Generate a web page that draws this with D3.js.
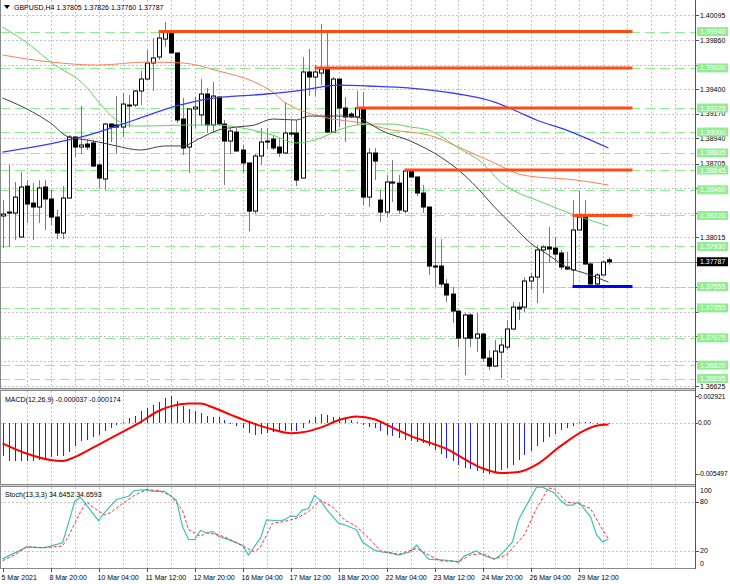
<!DOCTYPE html>
<html>
<head>
<meta charset="utf-8">
<style>
    body { margin: 0; background: #fff; }
    svg { display: block; font-family: 'Liberation Sans', Arial, sans-serif; }
    .grid line { stroke: #c4c4c4; stroke-dasharray: 2,2; shape-rendering: crispEdges; }
    .lbl { font-size: 7px; fill: #000; }
</style>
</head>
<body>
<svg width="730" height="584"></svg>
<script src="https://d3js.org/d3.v7.min.js"></script>
<script>
// ---- data ----
const header = "GBPUSD,H4  1.37805 1.37826 1.37760 1.37787";
const macdTitle = "MACD(12,26,9) -0.000037 -0.000174";
const stochTitle = "Stoch(13,3,3) 34.6452 34.6593";

const opens = [1.38215,1.38252,1.38243,1.38018,1.38495,1.38336,1.38299,1.38486,1.38374,1.38205,
    1.38056,1.38383,1.38954,1.38860,1.38888,1.38898,1.38692,1.38561,1.39075,1.39066,
    1.39047,1.39244,1.39253,1.39384,1.39496,1.39646,1.39702,1.39870,1.39936,1.39740,
    1.39122,1.38860,1.39216,1.39160,1.39356,1.39066,1.39328,1.39075,1.38916,1.39000,
    1.38832,1.38711,1.38261,1.38776,1.38916,1.38935,1.38860,1.38804,1.38991,1.38991,
    1.38570,1.39562,1.39515,1.39552,1.39590,1.39000,1.39496,1.39225,1.39169,1.39141,
    1.39225,1.38392,1.38804,1.38364,1.38252,1.38523,1.38523,1.38261,1.38636,1.38580,
    1.38430,1.38299,1.37747,1.37747,1.37579,1.37485,1.37326,1.37073,1.37289,1.37073,
    1.37111,1.36886,1.36811,1.36942,1.36989,1.37158,1.37363,1.37363,1.37607,1.37644,
    1.37897,1.37925,1.37915,1.37869,1.37738,1.37710,1.38084,1.38205,1.37766,1.37579,
    1.37663,1.37805];
const highs = [1.38364,1.38692,1.38533,1.38626,1.38551,1.38523,1.38551,1.38551,1.38458,1.38271,
    1.38495,1.38972,1.38954,1.39244,1.38935,1.38926,1.38711,1.39085,1.39085,1.39337,
    1.39365,1.39347,1.39393,1.39571,1.39768,1.39880,1.39945,1.40030,1.39945,1.39740,
    1.39319,1.39216,1.39328,1.39496,1.39412,1.39468,1.39337,1.39113,1.39038,1.39038,
    1.38879,1.38711,1.38795,1.39038,1.39038,1.38972,1.38944,1.39281,1.39113,1.39113,
    1.39702,1.39777,1.39627,1.40011,1.39936,1.39515,1.39496,1.39328,1.39188,1.39384,
    1.39375,1.38851,1.38851,1.38458,1.38598,1.38739,1.38598,1.38645,1.38645,1.38580,
    1.38505,1.38299,1.38009,1.37999,1.37625,1.37550,1.37326,1.37307,1.37307,1.37307,
    1.37120,1.36961,1.37055,1.37073,1.37242,1.37410,1.37410,1.37644,1.37681,1.37943,
    1.37943,1.38112,1.38018,1.37897,1.37878,1.38364,1.38449,1.38364,1.37784,1.37681,
    1.37803,1.37826];
const lows = [1.37915,1.37925,1.37990,1.38018,1.38149,1.37990,1.38149,1.38084,1.38130,1.37999,
    1.37999,1.38383,1.38767,1.38795,1.38832,1.38673,1.38477,1.38458,1.38907,1.38795,
    1.38954,1.39047,1.39234,1.39253,1.39487,1.39384,1.39674,1.39796,1.39740,1.39085,
    1.38785,1.38617,1.39038,1.39066,1.38991,1.38991,1.39066,1.38505,1.38795,1.38813,
    1.38617,1.38074,1.38233,1.38692,1.38841,1.38832,1.38767,1.38795,1.38963,1.38495,
    1.38570,1.39337,1.39337,1.39440,1.38991,1.38991,1.39047,1.38907,1.39131,1.39066,
    1.38318,1.38299,1.38551,1.38159,1.38205,1.38346,1.38233,1.38243,1.38570,1.38402,
    1.38243,1.37663,1.37550,1.37550,1.37410,1.37214,1.36989,1.36727,1.36989,1.36942,
    1.36849,1.36774,1.36802,1.36699,1.36961,1.37148,1.37242,1.37317,1.37522,1.37401,
    1.37494,1.37775,1.37775,1.37710,1.37710,1.37550,1.38084,1.37756,1.37550,1.37550,
    1.37663,1.37760];
const closes = [1.38233,1.38243,1.38392,1.38486,1.38327,1.38299,1.38477,1.38374,1.38205,1.38056,
    1.38383,1.38954,1.38860,1.38879,1.38860,1.38682,1.38570,1.39075,1.39047,1.39047,
    1.39262,1.39253,1.39384,1.39496,1.39646,1.39693,1.39880,1.39945,1.39740,1.39113,
    1.38851,1.39216,1.39234,1.39356,1.39066,1.39337,1.39075,1.38916,1.39010,1.38823,
    1.38711,1.38261,1.38776,1.38907,1.38907,1.38851,1.38804,1.38991,1.38982,1.38551,
    1.39562,1.39515,1.39562,1.39590,1.39000,1.39496,1.39225,1.39141,1.39141,1.39225,
    1.38392,1.38804,1.38729,1.38252,1.38533,1.38533,1.38271,1.38636,1.38580,1.38430,
    1.38299,1.37747,1.37738,1.37579,1.37476,1.37326,1.37073,1.37289,1.37073,1.37111,
    1.36886,1.36811,1.36952,1.37008,1.37158,1.37363,1.37345,1.37607,1.37644,1.37897,
    1.37925,1.37906,1.37859,1.37738,1.37719,1.38084,1.38205,1.37766,1.37579,1.37663,
    1.37784,1.37787];

// moving averages, [bar, price]
const maBlue = [[0,1.38813],[11,1.38926],[16,1.39000],[22,1.39113],[29,1.39244],[34,1.39309],
    [44,1.39356],[50,1.39393],[56,1.39440],[61,1.39431],[68,1.39412],[76,1.39356],[82,1.39281],
    [86,1.39188],[89,1.39113],[94,1.39019],[101,1.38851]];
const maOrange = [[0,1.39721],[8,1.39655],[16,1.39627],[24,1.39655],[30,1.39646],[36,1.39571],
    [42,1.39468],[45,1.39375],[47,1.39281],[51,1.39178],[55,1.39122],[59,1.39094],[62,1.39057],
    [65,1.39019],[71,1.38972],[76,1.38860],[79,1.38785],[82,1.38711],[86,1.38608],[89,1.38580],
    [94,1.38561],[101,1.38505]];
const maGreen = [[0,1.39983],[5,1.39796],[8,1.39655],[14,1.39421],[16,1.39281],[19,1.39113],
    [22,1.39057],[25,1.39057],[30,1.39066],[36,1.39066],[39,1.39047],[45,1.38972],[49,1.38898],
    [53,1.38944],[56,1.39019],[59,1.39066],[62,1.39075],[65,1.39075],[68,1.39047],[71,1.39019],
    [76,1.38851],[80,1.38711],[83,1.38533],[86,1.38430],[89,1.38364],[94,1.38252],[101,1.38121]];
const maBlack = [[0,1.39319],[5,1.39188],[8,1.39085],[11,1.38954],[14,1.38926],[16,1.38907],
    [19,1.38870],[23,1.38832],[27,1.38870],[30,1.38870],[33,1.38944],[36,1.39019],[39,1.39047],
    [42,1.39066],[45,1.39122],[49,1.39113],[51,1.39150],[56,1.39150],[59,1.39141],[61,1.39085],
    [63,1.39019],[68,1.38916],[73,1.38767],[76,1.38645],[79,1.38486],[82,1.38299],[85,1.38130],
    [88,1.37962],[91,1.37850],[94,1.37738],[97,1.37681],[101,1.37597]];

// horizontal levels
const greenLevels = [1.39940,1.39600,1.39225,1.39000,1.38805,1.38645,1.38460,1.38220,
    1.37930,1.37555,1.37355,1.37075,1.36820,1.36695];
const redSegments = [[26,1.39940],[52,1.39600],[59,1.39225],[67,1.38645],[95,1.38220]]; // [start bar, level]
const blueSegments = [[95,1.37555]];
const segmentEnd = 105;
const bidPrice = 1.37787;
const priceTicks = [1.40095,1.39860,1.39630,1.39400,1.39170,1.38940,1.38705,1.38475,
    1.38245,1.38015,1.37785,1.37550,1.37320,1.37090,1.36860,1.36625];

// MACD main (histogram) per bar, and signal [bar, value]
const macdHist = [-36,-41,-41,-41,-41,-41,-40,-39,-37,-36,-36,-31,-25,-20,-18,-15,-13,-9,-5,-2,
    1,5,8,13,16,19,23,27,29,24,18,15,13,11,8,7,7,3,0.5,-3,
    -5,-11,-13,-12,-11,-10,-10,-9,-9,-9,-5,3,7,10,9,7,6,4,3,1,
    -2,-4,-5,-9,-13,-14,-16,-18,-20,-21,-22,-25,-29,-34,-38,-41,-45,-49,-50,-52,
    -54,-55,-53,-51,-49,-45,-40,-35,-30,-25,-21,-15,-12,-8,-5,-3,1,1,1,0.5,
    0.5,-0.37].map(v => v * 1e-4);
const macdSignal = [[0,-22],[4,-33],[8,-40],[10,-41],[12,-37],[15,-27],[19,-13],[23,1],[26,13],
    [28,18],[31,21],[33,21],[35,17],[38,9],[42,-1],[45,-7],[48,-11],[50,-10],[53,-5],[56,3],
    [59,7],[62,4],[65,-5],[68,-14],[71,-21],[74,-28],[77,-39],[80,-49],[83,-54],[86,-53],
    [89,-45],[93,-25],[97,-8],[99,-3],[101,-1.74]].map(d => [d[0], d[1] * 1e-4]);
const macdTicks = [["0.002921", 0.002921], ["0.00", 0], ["-0.005497", -0.005497]];

// stochastic %K and %D [bar, value]
const stochK = [[0,10],[1,14],[3,21],[4,25],[6,24],[7,24],[8,26],[10,30],[11,54],[12,80],[13,86],
    [14,76],[16,57],[17,67],[19,83],[21,87],[22,94],[24,95],[25,93],[27,93],[29,82],[30,50],
    [31,34],[32,34],[33,45],[34,42],[35,44],[36,38],[38,33],[40,27],[41,15],[43,36],[44,58],
    [46,57],[47,58],[48,63],[49,62],[50,70],[51,72],[52,88],[53,82],[54,71],[56,54],[57,52],
    [59,46],[60,31],[62,21],[63,19],[65,17],[66,15],[68,19],[69,27],[70,19],[71,10],[73,9],
    [75,8],[76,6],[77,14],[79,20],[80,15],[82,10],[83,15],[85,31],[86,58],[88,85],[89,98],
    [90,98],[92,91],[93,82],[94,76],[95,76],[96,80],[98,62],[99,40],[100,31],[101,34.65]];
const stochD = [[0,8],[2,15],[4,25],[7,24],[10,26],[11,38],[13,68],[14,80],[15,74],[17,64],
    [18,67],[20,78],[22,88],[24,95],[26,94],[28,88],[30,70],[31,46],[33,38],[34,42],[36,40],
    [38,34],[40,26],[42,19],[43,25],[45,54],[47,56],[49,60],[51,68],[53,82],[55,74],[57,58],
    [59,50],[61,36],[63,20],[66,16],[69,23],[71,15],[73,8],[76,7],[78,15],[80,17],[82,10],
    [84,15],[87,40],[89,72],[91,97],[92,96],[94,80],[96,78],[98,72],[100,46],[101,34.66]];
const stochTicks = [100, 80, 20, 0];

// time axis labels, one every 8 bars
const timeLabels = ["5 Mar 2021","8 Mar 20:00","10 Mar 04:00","11 Mar 12:00","12 Mar 20:00",
    "16 Mar 04:00","17 Mar 12:00","18 Mar 20:00","22 Mar 04:00","23 Mar 12:00",
    "24 Mar 20:00","26 Mar 04:00","29 Mar 12:00"];

// ---- layout ----
const axisX = 695;
const main = { top: 0, bottom: 388 };
const macdP = { top: 391, bottom: 484 };
const stoP = { top: 487, bottom: 568 };

const svg = d3.select("svg");

const x = d3.scaleLinear().domain([0, 115]).range([2.5, 692.5]);
const y = d3.scaleLinear().domain([1.36625, 1.40095]).range([386, 15]);
const yM = d3.scaleLinear().domain([-0.005497, 0.002921]).range([473.8, 396]);
const yS = d3.scaleLinear().domain([0, 100]).range([567.3, 485.6]);

// clip paths per panel
const defs = svg.append("defs");
[["cMain", main], ["cMacd", macdP], ["cSto", stoP]].forEach(([id, p]) => {
    defs.append("clipPath").attr("id", id)
        .append("rect").attr("x", 0).attr("y", p.top).attr("width", axisX).attr("height", p.bottom - p.top);
});

// vertical grid every 4 bars
const vBars = d3.range(4, 115, 4);
[main, macdP, stoP].forEach(p => {
    svg.append("g").attr("class", "grid")
        .selectAll("line").data(vBars).join("line")
        .attr("x1", d => Math.round(x(d)) + 0.5).attr("x2", d => Math.round(x(d)) + 0.5)
        .attr("y1", p.top).attr("y2", p.bottom);
});

// horizontal grid
svg.append("g").attr("class", "grid")
    .selectAll("line").data(priceTicks).join("line")
    .attr("x1", 0).attr("x2", axisX)
    .attr("y1", d => Math.round(y(d)) + 0.5).attr("y2", d => Math.round(y(d)) + 0.5);
svg.append("g").attr("class", "grid")
    .selectAll("line").data([0]).join("line")
    .attr("x1", 0).attr("x2", axisX)
    .attr("y1", d => Math.round(yM(d)) + 0.5).attr("y2", d => Math.round(yM(d)) + 0.5);
svg.append("g").attr("class", "grid")
    .selectAll("line").data([80, 20]).join("line")
    .attr("x1", 0).attr("x2", axisX)
    .attr("y1", d => Math.round(yS(d)) + 0.5).attr("y2", d => Math.round(yS(d)) + 0.5);

// ---- main panel ----
const gMain = svg.append("g").attr("clip-path", "url(#cMain)");

gMain.append("g").selectAll("line").data(greenLevels).join("line")
    .attr("x1", 0).attr("x2", axisX)
    .attr("y1", d => Math.round(y(d)) + 0.5).attr("y2", d => Math.round(y(d)) + 0.5)
    .attr("stroke", "#90ee90").attr("stroke-dasharray", "10,5")
    .style("shape-rendering", "crispEdges");

gMain.append("line")
    .attr("x1", 0).attr("x2", axisX)
    .attr("y1", Math.round(y(bidPrice)) + 0.5).attr("y2", Math.round(y(bidPrice)) + 0.5)
    .attr("stroke", "#a8a8a8");

// candles
const bars = d3.range(opens.length);
const gC = gMain.append("g");
gC.selectAll("line").data(bars).join("line")
    .attr("x1", i => Math.round(x(i)) + 0.5).attr("x2", i => Math.round(x(i)) + 0.5)
    .attr("y1", i => y(highs[i])).attr("y2", i => y(lows[i]))
    .attr("stroke", "#7a7a7a");
gC.selectAll("rect").data(bars).join("rect")
    .attr("x", i => Math.round(x(i)) - 1.5)
    .attr("y", i => Math.min(y(opens[i]), y(closes[i])))
    .attr("width", 4)
    .attr("height", i => Math.max(1, Math.abs(y(opens[i]) - y(closes[i]))))
    .attr("fill", i => closes[i] >= opens[i] ? "#fff" : "#000")
    .attr("stroke", "#000").attr("stroke-width", 1);

// moving averages
const line = d3.line().x(d => x(d[0])).y(d => y(d[1])).curve(d3.curveMonotoneX);
[[maOrange, "#f9805a", 1], [maGreen, "#5fd35f", 1], [maBlue, "#3a3aff", 1.3], [maBlack, "#404040", 1]]
    .forEach(([data, col, w]) => {
        gMain.append("path").datum(data).attr("d", line)
            .attr("fill", "none").attr("stroke", col).attr("stroke-width", w);
    });

// support / resistance segments
gMain.append("g").selectAll("line").data(redSegments).join("line")
    .attr("x1", d => x(d[0])).attr("x2", x(segmentEnd))
    .attr("y1", d => y(d[1])).attr("y2", d => y(d[1]))
    .attr("stroke", "#ff4a12").attr("stroke-width", 3);
gMain.append("g").selectAll("line").data(blueSegments).join("line")
    .attr("x1", d => x(d[0])).attr("x2", x(segmentEnd))
    .attr("y1", d => y(d[1])).attr("y2", d => y(d[1]))
    .attr("stroke", "#0000ff").attr("stroke-width", 3);

// header
svg.append("path").attr("d", "M4,5 L10,5 L7,9 Z").attr("fill", "#000");
svg.append("text").attr("class", "lbl").attr("x", 14).attr("y", 10).text(header);

// ---- MACD panel ----
const gMacd = svg.append("g").attr("clip-path", "url(#cMacd)");
gMacd.append("g").selectAll("rect").data(bars).join("rect")
    .attr("x", i => Math.round(x(i)))
    .attr("y", i => Math.round(Math.min(yM(0), yM(macdHist[i]))))
    .attr("width", 1)
    .attr("height", i => Math.max(1, Math.round(Math.abs(yM(macdHist[i]) - yM(0)))))
    .attr("fill", "#1f1fff");
gMacd.append("path").datum(macdSignal)
    .attr("d", d3.line().x(d => x(d[0])).y(d => yM(d[1])).curve(d3.curveMonotoneX))
    .attr("fill", "none").attr("stroke", "#ff0000").attr("stroke-width", 2);
svg.append("text").attr("class", "lbl").attr("x", 5).attr("y", 402).text(macdTitle);

// ---- Stochastic panel ----
const gSto = svg.append("g").attr("clip-path", "url(#cSto)");
const sLine = d3.line().x(d => x(d[0])).y(d => yS(d[1]));
gSto.append("path").datum(stochK).attr("d", sLine)
    .attr("fill", "none").attr("stroke", "#3fc0b8").attr("stroke-width", 1.2);
gSto.append("path").datum(stochD).attr("d", sLine)
    .attr("fill", "none").attr("stroke", "#ff3030").attr("stroke-width", 1).attr("stroke-dasharray", "3,2");
svg.append("text").attr("class", "lbl").attr("x", 5).attr("y", 497).text(stochTitle);

// ---- frames ----
const frame = svg.append("g").attr("fill", "none").attr("stroke", "#8a8a8a");
frame.append("line").attr("x1", 0.5).attr("x2", 0.5).attr("y1", 0).attr("y2", stoP.bottom);
frame.append("line").attr("x1", axisX + 0.5).attr("x2", axisX + 0.5).attr("y1", 0).attr("y2", stoP.bottom + 1)
    .attr("stroke", "#555");
[main.bottom, macdP.top - 1, macdP.bottom, stoP.top - 1, stoP.bottom].forEach(v => {
    frame.append("line").attr("x1", 0).attr("x2", axisX).attr("y1", v + 0.5).attr("y2", v + 0.5);
});
svg.append("rect").attr("x", 0).attr("y", main.bottom + 1).attr("width", axisX).attr("height", 1).attr("fill", "#d0d0d0");
svg.append("rect").attr("x", 0).attr("y", macdP.bottom + 1).attr("width", axisX).attr("height", 1).attr("fill", "#d0d0d0");

// ---- price axis ----
// tick labels sitting right under a level tag are hidden by it, as on the terminal
const tagged = greenLevels.concat([bidPrice]);
const shownTicks = priceTicks.filter(t => !tagged.some(l => Math.abs(y(l) - y(t)) < 5));
const gAx = svg.append("g");
gAx.selectAll("line").data(priceTicks).join("line")
    .attr("x1", axisX).attr("x2", axisX + 4)
    .attr("y1", d => Math.round(y(d)) + 0.5).attr("y2", d => Math.round(y(d)) + 0.5)
    .attr("stroke", "#555");
gAx.selectAll("text").data(shownTicks).join("text")
    .attr("class", "lbl").attr("x", axisX + 5).attr("y", d => y(d) + 2.5)
    .text(d => d.toFixed(5));

const gTag = svg.append("g");
gTag.selectAll("rect").data(greenLevels).join("rect")
    .attr("x", axisX + 2).attr("y", d => y(d) - 4.5).attr("width", 31).attr("height", 9)
    .attr("fill", "#90ee90");
gTag.selectAll("text").data(greenLevels).join("text")
    .attr("class", "lbl").attr("x", axisX + 5).attr("y", d => y(d) + 2.5)
    .style("fill", "#fff").text(d => d.toFixed(5));
svg.append("rect").attr("x", axisX + 2).attr("y", y(bidPrice) - 4.5).attr("width", 31).attr("height", 9)
    .attr("fill", "#000");
svg.append("text").attr("class", "lbl").attr("x", axisX + 5).attr("y", y(bidPrice) + 2.5)
    .style("fill", "#fff").text(bidPrice.toFixed(5));

// MACD axis
svg.append("g").selectAll("text").data(macdTicks).join("text")
    .attr("class", "lbl").attr("x", axisX + 3)
    .attr("y", d => Math.min(Math.max(yM(d[1]), macdP.top + 5), macdP.bottom - 9) + 2.5)
    .style("font-size", "6.6px")
    .text(d => d[0]);
svg.append("g").selectAll("line").data(macdTicks).join("line")
    .attr("x1", axisX).attr("x2", axisX + 3)
    .attr("y1", d => Math.round(yM(d[1])) + 0.5).attr("y2", d => Math.round(yM(d[1])) + 0.5)
    .attr("stroke", "#555");

// Stoch axis
svg.append("g").selectAll("text").data(stochTicks).join("text")
    .attr("class", "lbl").attr("x", axisX + 5)
    .attr("y", d => Math.min(Math.max(yS(d), stoP.top + 3), stoP.bottom - 5) + 2.5)
    .text(d => d);
svg.append("g").selectAll("line").data([80, 20]).join("line")
    .attr("x1", axisX).attr("x2", axisX + 4)
    .attr("y1", d => Math.round(yS(d)) + 0.5).attr("y2", d => Math.round(yS(d)) + 0.5)
    .attr("stroke", "#555");

// ---- time axis ----
const gT = svg.append("g");
gT.selectAll("line").data(timeLabels).join("line")
    .attr("x1", (d, i) => Math.round(x(i * 8)) + 0.5).attr("x2", (d, i) => Math.round(x(i * 8)) + 0.5)
    .attr("y1", stoP.bottom).attr("y2", stoP.bottom + 4)
    .attr("stroke", "#555");
gT.selectAll("text").data(timeLabels).join("text")
    .attr("class", "lbl").attr("x", (d, i) => x(i * 8) - 1).attr("y", 580)
    .text(d => d);
</script>
</body>
</html>
